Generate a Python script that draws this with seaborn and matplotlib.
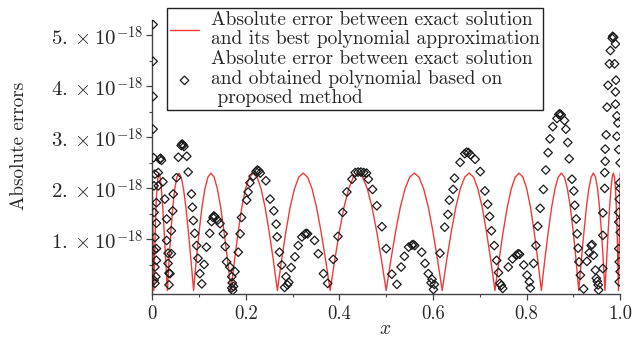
import matplotlib
matplotlib.use("Agg")
import matplotlib.pyplot as plt
import seaborn as sns
import pandas as pd

# errors are in units of 1e-18
# red curve: |error| of best polynomial approximation
best_x = [0.0, 0.0001, 0.0004, 0.0009, 0.0016, 0.0025, 0.0036, 0.0050, 0.0065, 0.0082,
          0.0101, 0.0122, 0.0145, 0.0170, 0.0197, 0.0226, 0.0257, 0.0290, 0.0325, 0.0362,
          0.0400, 0.0441, 0.0483, 0.0527, 0.0573, 0.0620, 0.0670, 0.0721, 0.0774, 0.0829,
          0.0885, 0.0943, 0.1003, 0.1064, 0.1127, 0.1191, 0.1257, 0.1324, 0.1394, 0.1464,
          0.1536, 0.1611, 0.1684, 0.1761, 0.1838, 0.1916, 0.1996, 0.2077, 0.2160, 0.2243,
          0.2328, 0.2413, 0.2500, 0.2588, 0.2676, 0.2766, 0.2857, 0.2948, 0.3040, 0.3133,
          0.3227, 0.3321, 0.3417, 0.3512, 0.3609, 0.3706, 0.3803, 0.3902, 0.4000, 0.4099,
          0.4198, 0.4298, 0.4397, 0.4497, 0.4598, 0.4698, 0.4799, 0.4899, 0.5000, 0.5101,
          0.5201, 0.5302, 0.5402, 0.5503, 0.5603, 0.5702, 0.5802, 0.5901, 0.6000, 0.6098,
          0.6197, 0.6294, 0.6391, 0.6488, 0.6583, 0.6679, 0.6773, 0.6867, 0.6960, 0.7052,
          0.7143, 0.7234, 0.7324, 0.7412, 0.7500, 0.7587, 0.7672, 0.7757, 0.7840, 0.7923,
          0.8004, 0.8084, 0.8162, 0.8239, 0.8316, 0.8389, 0.8464, 0.8536, 0.8606, 0.8676,
          0.8743, 0.8809, 0.8873, 0.8936, 0.8997, 0.9057, 0.9115, 0.9171, 0.9226, 0.9279,
          0.9330, 0.9380, 0.9427, 0.9473, 0.9517, 0.9559, 0.9600, 0.9638, 0.9675, 0.9710,
          0.9743, 0.9774, 0.9803, 0.9830, 0.9855, 0.9878, 0.9899, 0.9918, 0.9935, 0.9950,
          0.9964, 0.9975, 0.9984, 0.9991, 0.9996, 0.9999, 1.0]
best_err = [2.30, 2.22, 1.99, 1.63, 1.15, 0.60, 0.0, 0.60, 1.15, 1.63, 1.99, 2.22,
            2.30, 2.22, 1.99, 1.63, 1.15, 0.60, 0.0, 0.60, 1.15, 1.63, 1.99, 2.22,
            2.30, 2.22, 1.99, 1.63, 1.15, 0.60, 0.0, 0.60, 1.15, 1.63, 1.99, 2.22,
            2.30, 2.22, 1.99, 1.63, 1.15, 0.60, 0.0, 0.60, 1.15, 1.63, 1.99, 2.22,
            2.30, 2.22, 1.99, 1.63, 1.15, 0.60, 0.0, 0.60, 1.15, 1.63, 1.99, 2.22,
            2.30, 2.22, 1.99, 1.63, 1.15, 0.60, 0.0, 0.60, 1.15, 1.63, 1.99, 2.22,
            2.30, 2.22, 1.99, 1.63, 1.15, 0.60, 0.0, 0.60, 1.15, 1.63, 1.99, 2.22,
            2.30, 2.22, 1.99, 1.63, 1.15, 0.60, 0.0, 0.60, 1.15, 1.63, 1.99, 2.22,
            2.30, 2.22, 1.99, 1.63, 1.15, 0.60, 0.0, 0.60, 1.15, 1.63, 1.99, 2.22,
            2.30, 2.22, 1.99, 1.63, 1.15, 0.60, 0.0, 0.60, 1.15, 1.63, 1.99, 2.22,
            2.30, 2.22, 1.99, 1.63, 1.15, 0.60, 0.0, 0.60, 1.15, 1.63, 1.99, 2.22,
            2.30, 2.22, 1.99, 1.63, 1.15, 0.60, 0.0, 0.60, 1.15, 1.63, 1.99, 2.22,
            2.30, 2.22, 1.99, 1.63, 1.15, 0.60, 0.0, 0.60, 1.15, 1.63, 1.99, 2.22,
            2.30]

# diamonds: |error| of the polynomial from the proposed method
prop_x = [0.002, 0.002, 0.002, 0.002, 0.003, 0.006, 0.004, 0.009, 0.004, 0.009,
          0.006, 0.009, 0.004, 0.009, 0.006, 0.008, 0.006, 0.004,
          0.013, 0.013, 0.016, 0.018, 0.020, 0.023, 0.027, 0.031, 0.031, 0.034,
          0.034, 0.036, 0.038, 0.036,
          0.041, 0.041, 0.044, 0.045, 0.052, 0.056, 0.062, 0.064, 0.066, 0.068,
          0.074, 0.077, 0.084, 0.086, 0.088, 0.091, 0.095, 0.098, 0.102, 0.106,
          0.111, 0.116, 0.123, 0.127, 0.130, 0.132, 0.134, 0.140, 0.145, 0.152,
          0.156, 0.159, 0.166, 0.170, 0.170, 0.172, 0.174, 0.171,
          0.177, 0.184, 0.188, 0.191, 0.202, 0.205, 0.209, 0.216, 0.222, 0.225,
          0.228, 0.231, 0.243, 0.252, 0.260, 0.265, 0.267, 0.272, 0.277, 0.286,
          0.289, 0.292, 0.283,
          0.297, 0.305, 0.312, 0.320, 0.326, 0.329, 0.332, 0.347, 0.355, 0.366,
          0.375,
          0.387, 0.397, 0.407, 0.416, 0.427, 0.434, 0.440, 0.446, 0.452, 0.458,
          0.462, 0.471, 0.480, 0.491, 0.500, 0.512, 0.523,
          0.532, 0.539, 0.548, 0.555, 0.558, 0.561, 0.576, 0.583, 0.590, 0.596,
          0.601, 0.603, 0.598,
          0.615, 0.625, 0.632, 0.635, 0.643, 0.646, 0.658, 0.668, 0.672, 0.676,
          0.680, 0.690, 0.701, 0.711, 0.717, 0.721, 0.725, 0.731, 0.736, 0.740,
          0.743, 0.749, 0.746,
          0.761, 0.770, 0.778, 0.782, 0.785, 0.794, 0.801, 0.806, 0.808,
          0.815, 0.820, 0.824, 0.829, 0.836, 0.841, 0.846, 0.850, 0.856, 0.865,
          0.869, 0.871, 0.874, 0.881, 0.884, 0.888, 0.891, 0.897, 0.901, 0.903,
          0.906, 0.908, 0.910, 0.912, 0.915, 0.922,
          0.929, 0.934, 0.938, 0.940, 0.943, 0.947, 0.949, 0.953, 0.954, 0.951,
          0.963, 0.963, 0.963, 0.967, 0.967, 0.968, 0.968, 0.970, 0.972, 0.974,
          0.977, 0.979, 0.983, 0.984, 0.986, 0.990, 0.988, 0.991, 0.990, 0.990,
          0.993, 0.995, 0.993, 0.997, 1.000, 0.998, 0.997, 0.997, 1.000, 0.997,
          0.998, 1.000, 0.998, 0.999, 1.000]
prop_err = [5.21, 4.49, 3.80, 3.16, 2.60, 2.28, 2.05, 1.72, 1.53, 1.32,
            1.04, 0.82, 0.79, 0.59, 0.46, 0.27, 0.14, 0.20,
            2.31, 2.05, 2.57, 2.59, 2.55, 2.13, 1.79, 1.40, 0.98, 0.73,
            0.53, 0.34, 0.33, 0.11,
            0.72, 1.17, 1.56, 1.89, 2.21, 2.61, 2.84, 2.87, 2.85, 2.82,
            2.63, 2.32, 1.89, 1.63, 1.37, 1.12, 0.88, 0.63, 0.33, 0.13,
            0.51, 0.85, 1.12, 1.35, 1.43, 1.46, 1.44, 1.38, 1.31, 1.11,
            0.86, 0.56, 0.46, 0.27, 0.05, 0.00, 0.08, 0.15,
            0.37, 0.75, 1.11, 1.43, 1.77, 1.93, 2.11, 2.24, 2.33, 2.36,
            2.34, 2.30, 2.15, 1.79, 1.56, 1.30, 1.05, 0.75, 0.50, 0.27,
            0.11, 0.16, 0.06,
            0.45, 0.66, 0.88, 1.05, 1.10, 1.12, 1.11, 0.98, 0.72, 0.33,
            0.14,
            0.61, 1.06, 1.53, 1.93, 2.18, 2.31, 2.32, 2.32, 2.31, 2.30,
            2.18, 1.98, 1.66, 1.25, 0.82, 0.32, 0.12,
            0.46, 0.67, 0.85, 0.89, 0.90, 0.88, 0.75, 0.53, 0.33, 0.15,
            0.02, 0.12, 0.22,
            0.73, 1.24, 1.49, 1.77, 1.98, 2.20, 2.51, 2.68, 2.71, 2.70,
            2.66, 2.57, 2.33, 1.95, 1.69, 1.45, 1.17, 0.88, 0.59, 0.35,
            0.14, 0.04, 0.10,
            0.46, 0.62, 0.69, 0.72, 0.71, 0.50, 0.30, 0.17, 0.05,
            0.53, 0.88, 1.26, 1.61, 1.98, 2.36, 2.70, 2.97, 3.21, 3.37,
            3.45, 3.46, 3.44, 3.33, 3.16, 2.90, 2.58, 2.18, 1.95, 1.67,
            1.40, 1.11, 0.83, 0.56, 0.30, 0.03,
            0.57, 0.74, 0.88, 0.90, 0.69, 0.40, 0.24, 0.11, 0.01, 0.18,
            0.43, 1.08, 1.52, 2.00, 2.31, 2.53, 2.77, 3.05, 3.59, 4.02,
            4.44, 4.70, 4.94, 4.98, 4.96, 4.83, 4.44, 4.12, 3.89, 3.65,
            3.42, 3.28, 3.02, 2.76, 2.50, 1.79, 1.53, 1.34, 1.14, 0.82,
            0.56, 0.37, 0.17, 2.11, 2.00]

y_ticks = [1, 2, 3, 4, 5]
y_ticklabels = [r'$%d.\times10^{-18}$' % v for v in y_ticks]
x_ticks = [0, 0.2, 0.4, 0.6, 0.8, 1.0]
x_ticklabels = ['0', '0.2', '0.4', '0.6', '0.8', '1.0']

best = pd.DataFrame({'x': best_x, 'err': best_err})
prop = pd.DataFrame({'x': prop_x, 'err': prop_err})

sns.set_style('ticks')
plt.rcParams['font.family'] = ['cmr10', 'DejaVu Serif']
plt.rcParams['mathtext.fontset'] = 'cm'
plt.rcParams['axes.unicode_minus'] = False

fig = plt.figure(figsize=(6.42, 3.38), dpi=100)
ax = fig.add_axes([0.237, 0.130, 0.729, 0.811])

sns.lineplot(data=best, x='x', y='err', sort=False, estimator=None, color='#f03a3a',
             linewidth=1.0, ax=ax,
             label='Absolute error between exact solution\nand its best polynomial approximation')
sns.scatterplot(data=prop, x='x', y='err', marker='D', s=19, facecolor='none',
                edgecolor='#1a1a1a', linewidth=0.9, ax=ax, zorder=3,
                label='Absolute error between exact solution\nand obtained polynomial based on\n proposed method')

ax.set_xlim(0, 1.0)
ax.set_ylim(-0.07, 5.3)
ax.set_xticks(x_ticks)
ax.set_xticklabels(x_ticklabels)
ax.set_xticks([0.1, 0.3, 0.5, 0.7, 0.9], minor=True)
ax.set_yticks(y_ticks)
ax.set_yticklabels(y_ticklabels)
ax.set_yticks([0.5, 1.5, 2.5, 3.5, 4.5], minor=True)
ax.tick_params(axis='x', which='major', labelsize=13.5, length=4, width=0.9,
               color='#444444', direction='out', pad=4)
ax.tick_params(axis='y', which='major', labelsize=15, length=4, width=0.9,
               color='#444444', direction='out', pad=2)
ax.tick_params(axis='both', which='minor', length=2.5, width=0.8, color='#444444')

sns.despine(ax=ax)
for sp in ['left', 'bottom']:
    ax.spines[sp].set_color('#444444')
    ax.spines[sp].set_linewidth(1.0)

ax.set_xlabel(r'$x$', fontsize=14)
ax.xaxis.set_label_coords(0.498, -0.095)
ax.set_ylabel('Absolute errors', fontsize=13.8)
ax.yaxis.set_label_coords(-0.265, 0.54)

leg = ax.legend(loc='upper left', bbox_to_anchor=(167 / 642, 1 - 8 / 338),
                bbox_transform=fig.transFigure, fontsize=14, frameon=True,
                fancybox=False, edgecolor='#222222', framealpha=1,
                handlelength=1.5, handletextpad=0.6, borderpad=0.15,
                labelspacing=0.1, borderaxespad=0)
leg.get_frame().set_linewidth(1.0)
for t in leg.get_texts():
    t.set_linespacing(1.1)

fig.savefig('out.png', dpi=100)
